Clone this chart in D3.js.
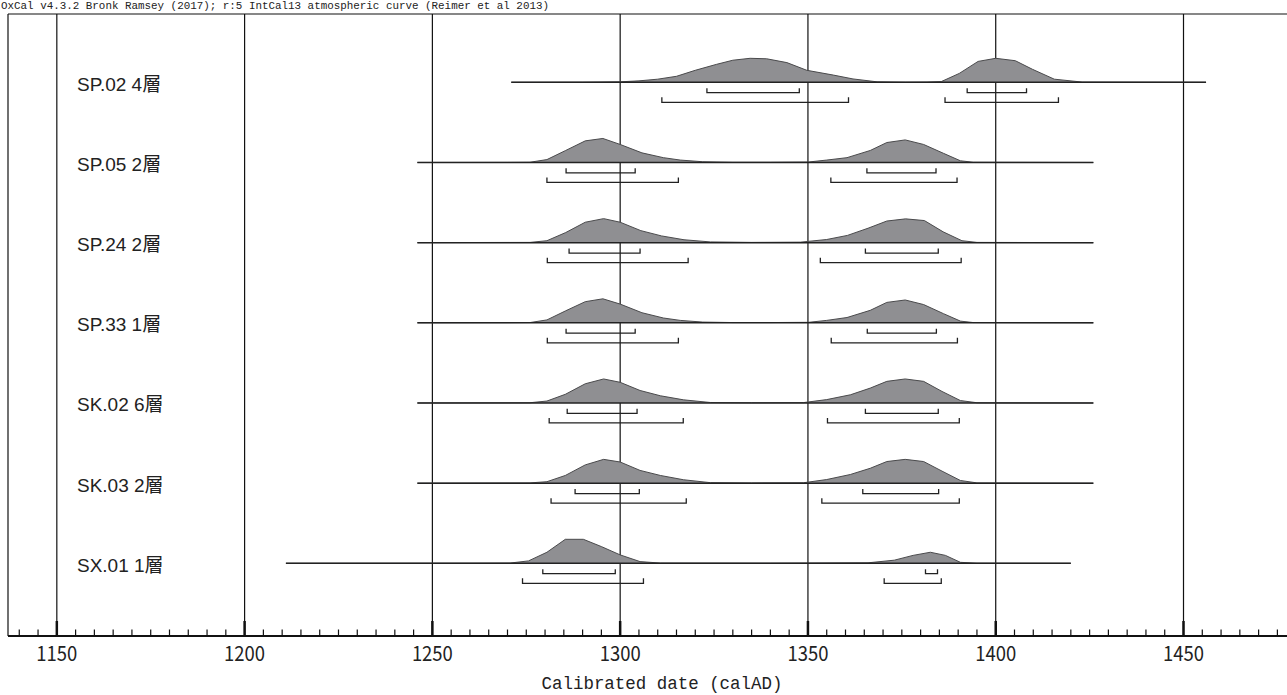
<!DOCTYPE html>
<html>
<head>
<meta charset="utf-8">
<script src="https://cdn.jsdelivr.net/npm/d3@7"></script>
<style>
  body { margin: 0; background: #fff; }
  svg { display: block; }
</style>
</head>
<body>
<svg id="chart"></svg>
<script>
// muestras (etiquetas de cada fila)
const labels = ['SP.02 4層', 'SP.05 2層', 'SP.24 2層', 'SP.33 1層', 'SK.02 6層', 'SK.03 2層', 'SX.01 1層'];

// rango de la linea base de cada muestra (calAD)
const spans = [[1271, 1456], [1246, 1426], [1246, 1426], [1246, 1426], [1246, 1426], [1246, 1426], [1211, 1420]];

// densidades de probabilidad [año, prob. relativa]
const densSP02 = [[1271, 0], [1290, 0.005], [1300, 0.02], [1305, 0.06], [1310, 0.13], [1315, 0.25], [1320, 0.5], [1325.7, 0.75], [1330, 0.92], [1334.6, 1.0], [1339, 0.98], [1344.4, 0.82], [1349.7, 0.5], [1356.8, 0.3], [1362, 0.14], [1368.4, 0.02], [1376, 0.005], [1381.7, 0.01], [1385.5, 0.03], [1390.3, 0.37], [1395.3, 0.87], [1400, 1.0], [1405.2, 0.9], [1409.8, 0.54], [1415.6, 0.13], [1423, 0.01], [1456, 0]];
const densSP05 = [[1246, 0], [1270, 0.005], [1276, 0.01], [1280.5, 0.12], [1285.5, 0.5], [1290.7, 0.9], [1295.4, 1.0], [1300, 0.75], [1305.8, 0.4], [1311.5, 0.2], [1316, 0.1], [1322, 0.03], [1330, 0.01], [1340, 0.01], [1350.2, 0.02], [1355, 0.1], [1360.4, 0.2], [1366.6, 0.5], [1371, 0.83], [1375.9, 0.94], [1380.8, 0.75], [1386.1, 0.38], [1390.6, 0.07], [1394, 0.01], [1426, 0]];
const densSP24 = [[1246, 0], [1276, 0.01], [1280.5, 0.08], [1285.5, 0.42], [1290.7, 0.85], [1295.6, 1.0], [1300, 0.85], [1305.5, 0.5], [1311, 0.28], [1317, 0.12], [1324, 0.03], [1335, 0.01], [1348, 0.02], [1355, 0.13], [1360.5, 0.3], [1366, 0.6], [1371, 0.9], [1376, 0.99], [1381, 0.92], [1386, 0.45], [1391, 0.08], [1395, 0.01], [1426, 0]];
const densSP33 = [[1246, 0], [1270, 0.005], [1276, 0.01], [1280.5, 0.12], [1285.5, 0.5], [1290.7, 0.88], [1295.4, 1.0], [1300, 0.78], [1305.8, 0.42], [1311.5, 0.2], [1316, 0.1], [1322, 0.03], [1330, 0.01], [1340, 0.01], [1350.2, 0.02], [1355, 0.1], [1360.4, 0.22], [1366.6, 0.52], [1371, 0.85], [1375.9, 0.95], [1380.8, 0.76], [1386.1, 0.38], [1390.6, 0.07], [1394, 0.01], [1426, 0]];
const densSK02 = [[1246, 0], [1276, 0.01], [1280.5, 0.08], [1285.4, 0.36], [1290.7, 0.8], [1295.6, 1.0], [1300, 0.86], [1305.3, 0.52], [1310.7, 0.3], [1316.9, 0.13], [1324, 0.02], [1335, 0.01], [1348.8, 0.015], [1355, 0.14], [1361.3, 0.34], [1366.6, 0.62], [1371, 0.9], [1375.9, 1.0], [1380.8, 0.9], [1385.7, 0.48], [1390.6, 0.1], [1395, 0.01], [1426, 0]];
const densSK03 = [[1246, 0], [1276, 0.01], [1280.5, 0.06], [1285.4, 0.32], [1290.7, 0.76], [1295.6, 0.99], [1300, 0.88], [1305.3, 0.53], [1310.7, 0.32], [1316.9, 0.14], [1324, 0.02], [1335, 0.01], [1348.8, 0.015], [1355, 0.15], [1361.3, 0.36], [1366.6, 0.62], [1371, 0.9], [1375.9, 0.99], [1380.8, 0.9], [1385.7, 0.5], [1390.6, 0.11], [1395, 0.01], [1426, 0]];
const densSX01 = [[1211, 0], [1260, 0.005], [1270.7, 0.01], [1275.6, 0.1], [1280.5, 0.46], [1285.4, 1.0], [1290.2, 1.0], [1295.1, 0.69], [1300, 0.35], [1305.3, 0.07], [1310.7, 0.01], [1340, 0.005], [1366, 0.02], [1373, 0.13], [1378, 0.33], [1382.6, 0.46], [1386.6, 0.33], [1390.6, 0.04], [1395, 0.005], [1420, 0]];
const densities = [densSP02, densSP05, densSP24, densSP33, densSK02, densSK03, densSX01];

// rangos 68.2% y 95.4%
const range68 = [
  [[1323.1, 1347.7], [1392.4, 1408.2]],
  [[1285.6, 1304.0], [1365.7, 1384.1]],
  [[1286.4, 1305.3], [1365.3, 1384.7]],
  [[1285.6, 1304.0], [1365.8, 1384.2]],
  [[1285.9, 1304.5], [1365.3, 1384.7]],
  [[1288.0, 1305.1], [1364.6, 1384.8]],
  [[1279.4, 1298.7], [1381.3, 1384.5]]
];
const range95 = [
  [[1311.1, 1360.8], [1386.5, 1416.7]],
  [[1280.5, 1315.5], [1356.1, 1389.7]],
  [[1280.6, 1318.1], [1353.3, 1390.8]],
  [[1280.6, 1315.5], [1356.2, 1389.8]],
  [[1281.1, 1316.8], [1355.2, 1390.3]],
  [[1281.6, 1317.6], [1353.7, 1390.3]],
  [[1274.0, 1306.2], [1370.3, 1385.5]]
];

// ticks del eje
const majorTicks = [1150, 1200, 1250, 1300, 1350, 1400, 1450];
const minorTicks = d3.range(1140, 1480, 5);

const headerText = 'OxCal v4.3.2 Bronk Ramsey (2017); r:5 IntCal13 atmospheric curve (Reimer et al 2013)';
const axisTitle = 'Calibrated date (calAD)';

// Configuración de la ventana
const width = 1287;
const height = 695;
const plotLeft = 8, plotTop = 14, axisY = 636;

const svg = d3.select('#chart')
  .attr('width', width)
  .attr('height', height);

const x = d3.scaleLinear().domain([1137, 1478]).range([plotLeft, plotLeft + 341 * 3.7556]);
const rowY = d3.scalePoint().domain(labels).range([82.3, 563.3]);
const h = d3.scaleLinear().domain([0, 1]).range([0, 24]);

// cabecera de OxCal
svg.append('text')
  .attr('x', 1)
  .attr('y', 9)
  .attr('font-family', '"Liberation Mono", "DejaVu Sans Mono", monospace')
  .attr('font-size', 11)
  .attr('textLength', 548)
  .attr('lengthAdjust', 'spacingAndGlyphs')
  .attr('fill', '#222')
  .text(headerText);

// marco (arriba e izquierda)
svg.append('line')
  .attr('x1', plotLeft).attr('x2', width)
  .attr('y1', plotTop).attr('y2', plotTop)
  .attr('stroke', '#111').attr('stroke-width', 1.2);
svg.append('line')
  .attr('x1', plotLeft).attr('x2', plotLeft)
  .attr('y1', plotTop).attr('y2', axisY)
  .attr('stroke', '#111').attr('stroke-width', 1.2);

// lineas verticales de la cuadricula
svg.append('g')
  .selectAll('line')
  .data(majorTicks)
  .enter().append('line')
  .attr('x1', d => x(d)).attr('x2', d => x(d))
  .attr('y1', plotTop).attr('y2', axisY)
  .attr('stroke', '#111')
  .attr('stroke-width', 1.2);

const area = d3.area()
  .x(d => x(d[0]))
  .y0(0)
  .y1(d => -h(d[1]));

const topLine = d3.line()
  .x(d => x(d[0]))
  .y(d => -h(d[1]));

const rows = svg.append('g')
  .selectAll('g')
  .data(labels)
  .enter().append('g')
  .attr('transform', d => `translate(0,${rowY(d)})`);

rows.append('text')
  .attr('x', 77)
  .attr('y', 8.4)
  .attr('font-family', '"Liberation Sans", Arial, "Noto Sans CJK JP", sans-serif')
  .attr('font-size', 19)
  .attr('fill', '#222')
  .text(d => d);

rows.append('path')
  .attr('d', (d, i) => area(densities[i]))
  .attr('fill', '#8f8f92');

rows.append('path')
  .attr('d', (d, i) => topLine(densities[i]))
  .attr('fill', 'none')
  .attr('stroke', '#4a4a4c')
  .attr('stroke-width', 1);

// linea base
rows.append('line')
  .attr('x1', (d, i) => x(spans[i][0]))
  .attr('x2', (d, i) => x(spans[i][1]))
  .attr('y1', 0).attr('y2', 0)
  .attr('stroke', '#222')
  .attr('stroke-width', 1.5);

function bracket(r, dy, tick) {
  return `M${x(r[0])},${dy - tick}V${dy}H${x(r[1])}V${dy - tick}`;
}

rows.each(function (d, i) {
  const g = d3.select(this);
  range68[i].forEach(r => {
    g.append('path').attr('d', bracket(r, 10.4, 4.5))
      .attr('fill', 'none').attr('stroke', '#222').attr('stroke-width', 1.3);
  });
  range95[i].forEach(r => {
    g.append('path').attr('d', bracket(r, 20, 5))
      .attr('fill', 'none').attr('stroke', '#222').attr('stroke-width', 1.3);
  });
});

// eje X
svg.append('line')
  .attr('x1', plotLeft).attr('x2', width)
  .attr('y1', axisY).attr('y2', axisY)
  .attr('stroke', '#111').attr('stroke-width', 2);

svg.append('g')
  .selectAll('line')
  .data(minorTicks)
  .enter().append('line')
  .attr('x1', d => x(d)).attr('x2', d => x(d))
  .attr('y1', axisY).attr('y2', d => majorTicks.includes(d) ? axisY - 15 : axisY - 6.5)
  .attr('stroke', '#111')
  .attr('stroke-width', d => majorTicks.includes(d) ? 2.5 : 1.2);

svg.append('g')
  .selectAll('text')
  .data(majorTicks)
  .enter().append('text')
  .attr('x', d => x(d))
  .attr('y', 661)
  .attr('text-anchor', 'middle')
  .attr('font-family', '"Noto Sans CJK JP", "Liberation Sans", sans-serif')
  .attr('font-size', 21)
  .attr('textLength', 41)
  .attr('lengthAdjust', 'spacingAndGlyphs')
  .attr('fill', '#222')
  .text(d => d);

svg.append('text')
  .attr('x', 662)
  .attr('y', 689)
  .attr('text-anchor', 'middle')
  .attr('font-family', '"Liberation Mono", "DejaVu Sans Mono", monospace')
  .attr('font-size', 18)
  .attr('textLength', 241)
  .attr('lengthAdjust', 'spacingAndGlyphs')
  .attr('fill', '#222')
  .text(axisTitle);
</script>
</body>
</html>
